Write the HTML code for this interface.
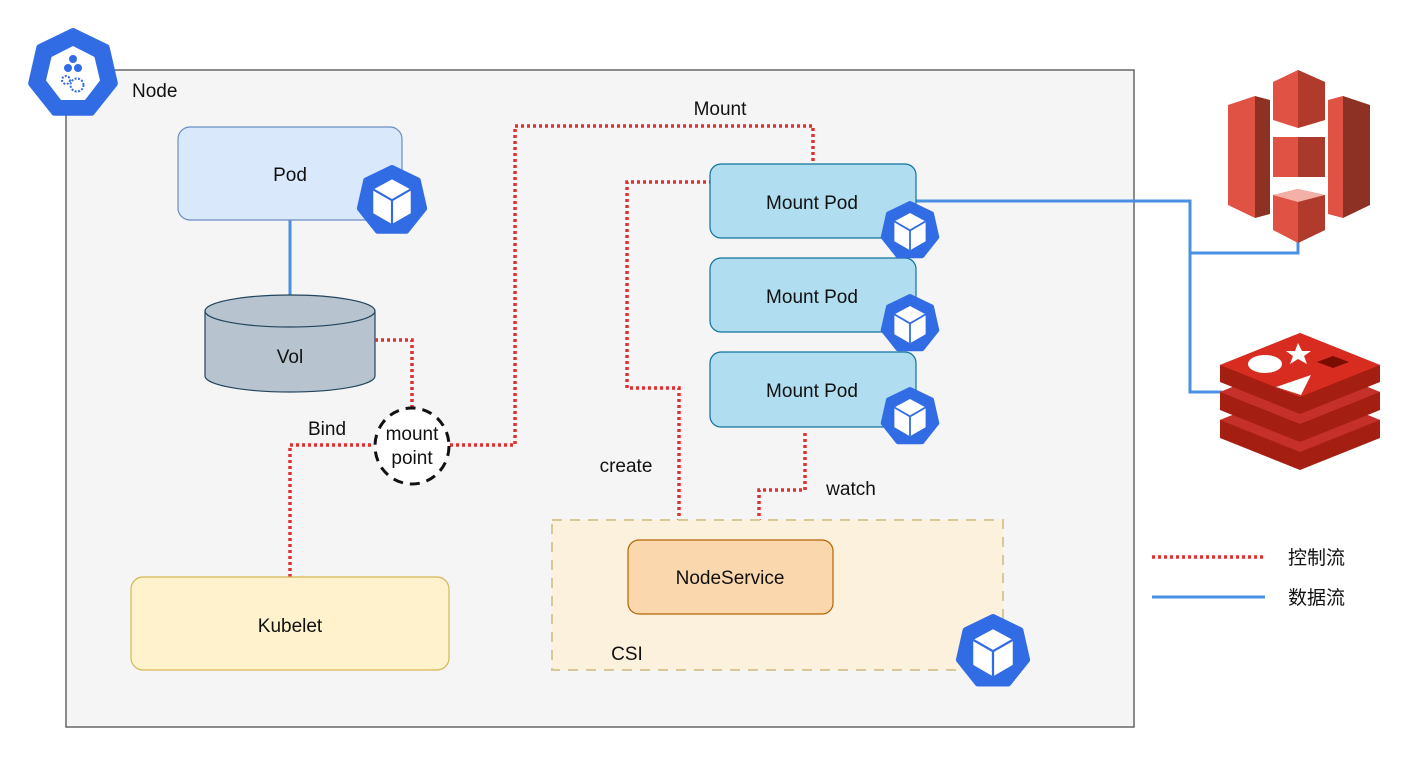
<!DOCTYPE html>
<html><head><meta charset="utf-8"><style>
html,body{margin:0;padding:0;background:#fff;}
svg{display:block;}
text{font-family:"Liberation Sans","Noto Sans CJK SC",sans-serif;fill:#111;}
</style></head><body>
<svg width="1410" height="758" viewBox="0 0 1410 758" xmlns="http://www.w3.org/2000/svg">
<defs>
<symbol id="k" viewBox="-50 -50 100 100">
<polygon points="0,-46 36,-28.7 44.8,10.3 20,41.4 -20,41.4 -44.8,10.3 -36,-28.7" fill="#326ce5" stroke="#326ce5" stroke-width="8" stroke-linejoin="round"/>
<polygon points="0,-30 26,-16 26,17 0,32 -26,17 -26,-16" fill="#fff"/>
<polyline points="-26,-16 0,-1 26,-16" fill="none" stroke="#326ce5" stroke-width="3"/>
<line x1="0" y1="-1" x2="0" y2="32" stroke="#326ce5" stroke-width="3"/>
</symbol>
</defs>
<rect x="66" y="70" width="1068" height="657" fill="#f5f5f5" stroke="#666" stroke-width="1.5"/>
<g transform="translate(73,74)">
<polygon points="0,-43 33.6,-26.8 41.9,9.6 18.7,38.7 -18.7,38.7 -41.9,9.6 -33.6,-26.8" fill="#326ce5" stroke="#326ce5" stroke-width="6" stroke-linejoin="round"/>
<polygon points="0,-28 21.5,-17 27,6.5 12,26 -12,26 -27,6.5 -21.5,-17" fill="#fff"/>
<circle cx="0" cy="-15" r="4" fill="#326ce5"/><circle cx="-5" cy="-6" r="4" fill="#326ce5"/><circle cx="5" cy="-6" r="4" fill="#326ce5"/>
<circle cx="-7" cy="6" r="4" fill="none" stroke="#326ce5" stroke-width="2" stroke-dasharray="2 1.5"/>
<circle cx="4" cy="11" r="6.5" fill="none" stroke="#326ce5" stroke-width="2" stroke-dasharray="2 1.5"/>
</g>
<text x="132" y="97" font-size="19">Node</text>

<g fill="none" stroke="#4a90e2" stroke-width="3">
<line x1="290" y1="220" x2="290" y2="297"/>
<polyline points="916,201 1190,201 1190,392 1222,392"/>
<polyline points="1190,253 1298,253 1298,238"/>
<line x1="1152" y1="597" x2="1265" y2="597"/>
</g>

<rect x="178" y="127" width="224" height="93" rx="12" fill="#dae8fc" stroke="#6c8ebf" stroke-width="1.2"/>
<text x="290" y="181" font-size="19" text-anchor="middle">Pod</text>
<use href="#k" x="356" y="164" width="72" height="74"/>

<path d="M205,311 L205,376 A85,16 0 0 0 375,376 L375,311" fill="#b7c4cf" stroke="#23445d" stroke-width="1.2"/>
<ellipse cx="290" cy="311" rx="85" ry="16" fill="#b7c4cf" stroke="#23445d" stroke-width="1.2"/>
<text x="290" y="363" font-size="19" text-anchor="middle">Vol</text>

<g fill="none" stroke="#e03030" stroke-width="3.5" stroke-dasharray="3 3">
<polyline points="375,340 412,340 412,407"/>
<polyline points="290,577 290,445 374,445"/>
<polyline points="450,445 515,445 515,126 813,126 813,164"/>
<polyline points="679,540 679,388 627,388 627,182 710,182"/>
<polyline points="805,433 805,490 759,490 759,520"/>
<line x1="1152" y1="557" x2="1265" y2="557"/>
</g>
<text x="327" y="435" font-size="19" text-anchor="middle">Bind</text>
<text x="720" y="115" font-size="19" text-anchor="middle">Mount</text>
<text x="626" y="472" font-size="19" text-anchor="middle">create</text>
<text x="851" y="495" font-size="19" text-anchor="middle">watch</text>

<ellipse cx="412" cy="446" rx="37" ry="38" fill="#fff" stroke="#111" stroke-width="3" stroke-dasharray="10 7"/>
<text x="412" y="440" font-size="19" text-anchor="middle">mount</text>
<text x="412" y="464" font-size="19" text-anchor="middle">point</text>

<g fill="#b1ddf0" stroke="#10739e" stroke-width="1.2">
<rect x="710" y="164" width="206" height="74" rx="11"/>
<rect x="710" y="258" width="206" height="74" rx="11"/>
<rect x="710" y="352" width="206" height="75" rx="11"/>
</g>
<text x="812" y="209" font-size="19" text-anchor="middle">Mount Pod</text>
<text x="812" y="303" font-size="19" text-anchor="middle">Mount Pod</text>
<text x="812" y="397" font-size="19" text-anchor="middle">Mount Pod</text>
<use href="#k" x="880" y="200" width="60" height="62"/>
<use href="#k" x="880" y="293" width="60" height="62"/>
<use href="#k" x="880" y="386" width="60" height="62"/>

<rect x="552" y="520" width="451" height="150" fill="#fbf1dc" stroke="#d9c897" stroke-width="2" stroke-dasharray="10 8"/>
<rect x="628" y="540" width="205" height="74" rx="11" fill="#fad7ac" stroke="#b46504" stroke-width="1.2"/>
<text x="730" y="584" font-size="19" text-anchor="middle">NodeService</text>
<text x="627" y="660" font-size="19" text-anchor="middle">CSI</text>
<use href="#k" x="955" y="613" width="76" height="78"/>

<rect x="131" y="577" width="318" height="93" rx="12" fill="#fff2cc" stroke="#d6b656" stroke-width="1.2"/>
<text x="290" y="632" font-size="19" text-anchor="middle">Kubelet</text>

<g>
<polygon points="1228,105 1255,96 1255,218 1228,205" fill="#e05243"/>
<polygon points="1255,96 1270,100 1270,214 1255,218" fill="#8c3123"/>
<polygon points="1370,105 1343,96 1343,218 1370,205" fill="#8c3123"/>
<polygon points="1343,96 1328,100 1328,214 1343,218" fill="#e05243"/>
<polygon points="1273,82 1298,70 1325,82 1325,120 1298,128 1273,120" fill="#e05243"/>
<polygon points="1298,70 1325,82 1325,120 1298,128" fill="#b03a2b"/>
<rect x="1273" y="137" width="52" height="40" fill="#e05243"/>
<rect x="1298" y="137" width="27" height="40" fill="#a9392b"/>
<polygon points="1273,195 1298,189 1325,195 1325,230 1298,243 1273,230" fill="#e05243"/>
<polygon points="1273,195 1298,189 1325,195 1298,202" fill="#f2b0a7"/>
<polygon points="1298,202 1325,195 1325,230 1298,243" fill="#b03a2b"/>
</g>

<g>
<path d="M1220,420 L1300,388 L1380,420 L1380,438 L1300,470 L1220,438 Z" fill="#a41e11"/>
<path d="M1220,420 L1300,452 L1380,420 L1300,388 Z" fill="#c6302b"/>
<path d="M1220,392 L1300,360 L1380,392 L1380,410 L1300,442 L1220,410 Z" fill="#a41e11"/>
<path d="M1220,392 L1300,424 L1380,392 L1300,360 Z" fill="#c6302b"/>
<path d="M1220,365 L1300,333 L1380,365 L1380,382 L1300,414 L1220,382 Z" fill="#a41e11"/>
<path d="M1220,365 L1300,333 L1380,365 L1300,397 Z" fill="#d82c20"/>
<ellipse cx="1265" cy="364" rx="17" ry="9" fill="#fff"/>
<polygon points="1298,343 1302,351 1311,351 1304,356 1307,364 1298,359 1290,364 1293,356 1286,351 1295,351" fill="#fff"/>
<polygon points="1276,387 1311,375 1301,395" fill="#fff"/>
<polygon points="1317,362 1333,356 1349,362 1333,368" fill="#7a0c00"/>
</g>

<text x="1288" y="564" font-size="19">控制流</text>
<text x="1288" y="604" font-size="19">数据流</text>
</svg>
</body></html>
